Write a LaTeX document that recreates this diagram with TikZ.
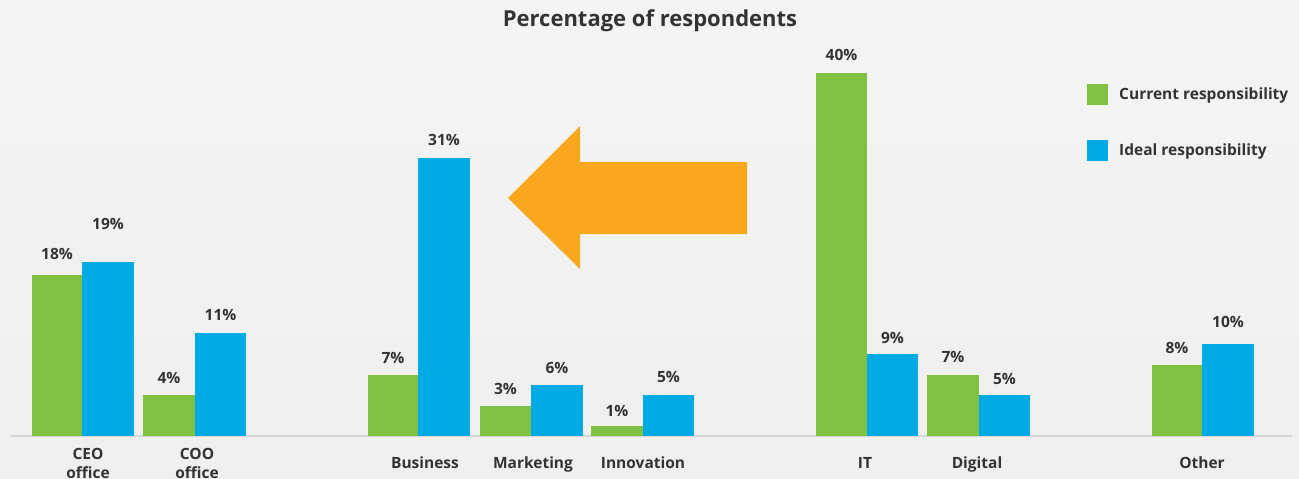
\documentclass[tikz,border=0pt]{standalone}
\usepackage{fontspec}
\setmainfont{Open Sans}
\definecolor{curgreen}{HTML}{80C142}
\definecolor{idealblue}{HTML}{00AAE5}
\definecolor{arroworange}{HTML}{F9A81E}
\definecolor{txt}{HTML}{333333}
\definecolor{bgtop}{HTML}{F4F4F4}
\definecolor{bgbot}{HTML}{EFEFEF}
\definecolor{axisgray}{HTML}{D6D6D6}
\begin{document}
\begin{tikzpicture}[x=1pt,y=-1pt,
  cur/.style={fill=curgreen},
  ideal/.style={fill=idealblue},
  val/.style={font=\bfseries\fontsize{15.5}{18}\selectfont, text=txt, inner sep=0pt},
  cat/.style={font=\bfseries\fontsize{15.5}{19}\selectfont, text=txt, align=center, inner sep=0pt},
  leg/.style={font=\bfseries\fontsize{15.5}{18}\selectfont, text=txt, anchor=west, inner sep=0pt},
  swatch/.style={minimum size=21pt, inner sep=0pt, draw=none},
]
\shade[top color=bgtop, bottom color=bgbot] (0,0) rectangle (1299,479);
\useasboundingbox (0,0) rectangle (1299,479);

\node[font=\bfseries\fontsize{22}{26}\selectfont, text=txt] (title) at (650,21) {Percentage of respondents};

% axis
\coordinate (axL) at (10,436);
\coordinate (axR) at (1292,436);
\draw[axisgray, line width=1.5pt] (axL) -- (axR);

% bars: name / left / mid / right / green top / blue top / green val / blue val / green label y / blue label y
\foreach \n/\a/\b/\c/\g/\h/\gv/\hv/\gy/\hy in {
  ceo/32/82/134/275/262/18/19/253.5/224,
  coo/143/195/246/395/333/4/11/378/314.5,
  bus/368/418/470/375/158/7/31/357.5/140,
  mkt/480/531/583/406/385/3/6/389/367.5,
  inn/591/643/694/426/395/1/5/411/376.5,
  it/816/867/918/73/354/40/9/55.3/338,
  dig/927/979/1030/375/395/7/5/357/378.5,
  oth/1152/1202/1254/365/344/8/10/348/322}{
  \fill[cur] (\a,436) rectangle (\b,\g);
  \fill[ideal] (\b,436) rectangle (\c,\h);
  \node[val] (\n-gv) at ({(\a+\b)/2},\gy) {\gv\%};
  \node[val] (\n-hv) at ({(\b+\c)/2},\hy) {\hv\%};
}

% category labels
\node[cat] (ceo-l) at (88,463) {CEO\\office};
\node[cat] (coo-l) at (197,463) {COO\\office};
\node[cat, anchor=base] (bus-l) at (425,468) {Business};
\node[cat, anchor=base] (mkt-l) at (533,468) {Marketing};
\node[cat, anchor=base] (inn-l) at (643,468) {Innovation};
\node[cat, anchor=base] (it-l) at (865,468) {IT};
\node[cat, anchor=base] (dig-l) at (977,468) {Digital};
\node[cat, anchor=base] (oth-l) at (1202,468) {Other};

% arrow
\fill[arroworange] (508,198) -- (580,126) -- (580,162) -- (747,162) -- (747,234) -- (580,234) -- (580,269) -- cycle;

% legend
\node[swatch, fill=curgreen] (sw1) at (1097.5,94.5) {};
\node[swatch, fill=idealblue] (sw2) at (1097.5,150.5) {};
\node[leg] (lg1) at (1119,95) {Current responsibility};
\node[leg] (lg2) at (1119,151) {Ideal responsibility};
\end{tikzpicture}
\end{document}
